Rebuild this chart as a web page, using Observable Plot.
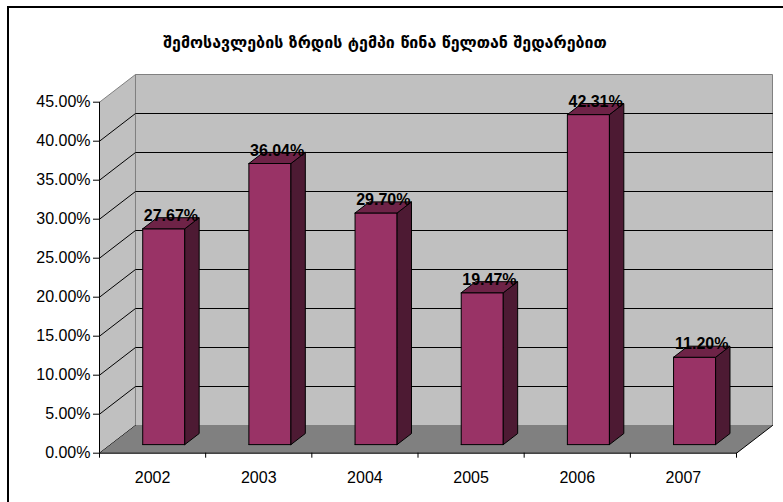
<!DOCTYPE html>
<html>
<head>
<meta charset="utf-8">
<script src="https://cdn.jsdelivr.net/npm/d3@7"></script>
<script src="https://cdn.jsdelivr.net/npm/@observablehq/plot@0.6"></script>
<style>
  html, body { margin: 0; padding: 0; background: #fff; }
  body { width: 783px; height: 502px; position: relative; overflow: hidden; }
  #frame { position: absolute; left: 7px; top: 6px; width: 800px; height: 520px;
           border-left: 2px solid #000; border-top: 2px solid #000; pointer-events: none; }
  #chart { position: absolute; left: 0; top: 0; }
</style>
</head>
<body>
<div id="chart"></div>
<div id="frame"></div>
<script>
// ---- data ----
const title = "შემოსავლების ზრდის ტემპი წინა წელთან შედარებით";
const years = ["2002", "2003", "2004", "2005", "2006", "2007"];
const growth = [27.67, 36.04, 29.70, 19.47, 42.31, 11.20];
const yTicks = [0, 5, 10, 15, 20, 25, 30, 35, 40, 45];

// ---- pseudo-3D projection (depth d in [0,1]) ----
const N = years.length;
const YMAX = 45;
const DX = 0.339;   // depth shift in category units
const DY = 3.55;    // depth shift in percent units
const P = (c, v, d) => ({x: c + d * DX, y: v + d * DY});

const poly = (id, pts) => pts.concat([pts[0]]).map(p => ({...p, id}));

// walls
const leftWall = poly("lw", [P(0,0,0), P(0,YMAX,0), P(0,YMAX,1), P(0,0,1)]);
const backWall = poly("bw", [P(0,0,1), P(0,YMAX,1), P(N,YMAX,1), P(N,0,1)]);
const floor = poly("fl", [P(0,0,0), P(N,0,0), P(N,0,1), P(0,0,1)]);
const floorEdge = [P(0,0,0), P(N,0,0), P(N,0,1)];

// gridlines
const grid = yTicks.filter(v => v > 0 && v < YMAX).flatMap(v =>
  [P(0,v,0), P(0,v,1), P(N,v,1)].map(p => ({...p, id: v})));
const zeroGrid = [P(0,0,0), P(0,0,1)];

// bars
const HW = 0.198, D0 = 0.31, D1 = 0.71;
const fronts = [], sides = [], tops = [];
growth.forEach((v, i) => {
  const c = i + 0.5;
  fronts.push(...poly(i, [P(c-HW,0,D0), P(c+HW,0,D0), P(c+HW,v,D0), P(c-HW,v,D0)]));
  sides.push(...poly(i, [P(c+HW,0,D0), P(c+HW,0,D1), P(c+HW,v,D1), P(c+HW,v,D0)]));
  tops.push(...poly(i, [P(c-HW,v,D0), P(c+HW,v,D0), P(c+HW,v,D1), P(c-HW,v,D1)]));
});
const labels = growth.map((v, i) => ({...P(i + 0.5, v, D1), t: v.toFixed(2) + "%"}))
  .map((p, i) => ({...p, x: i + 0.5 + ((D0 + D1) / 2) * DX}));

const font = "Liberation Sans, Arial, sans-serif";

const chart = Plot.plot({
  width: 783,
  height: 502,
  marginLeft: 99,
  marginRight: 47,
  marginTop: 101.7,
  marginBottom: 49.3,
  style: {fontFamily: font, fontSize: "16px", color: "#000", background: "transparent"},
  x: {domain: [0, N]},
  y: {domain: [0, YMAX]},
  marks: [
    Plot.line(leftWall, {x: "x", y: "y", z: "id", fill: "#c0c0c0", stroke: "#808080", strokeWidth: 1}),
    Plot.line(backWall, {x: "x", y: "y", z: "id", fill: "#c0c0c0", stroke: "#808080", strokeWidth: 1}),
    Plot.line(grid, {x: "x", y: "y", z: "id", stroke: "#000", strokeWidth: 1}),
    Plot.line(zeroGrid, {x: "x", y: "y", stroke: "#000", strokeWidth: 1}),
    Plot.line(floor, {x: "x", y: "y", z: "id", fill: "#808080", stroke: "none"}),
    Plot.line(floorEdge, {x: "x", y: "y", stroke: "#000", strokeWidth: 1}),
    Plot.line(fronts, {x: "x", y: "y", z: "id", fill: "#993366", stroke: "#000", strokeWidth: 1, strokeLinejoin: "miter"}),
    Plot.line(sides, {x: "x", y: "y", z: "id", fill: "#4d1a33", stroke: "#000", strokeWidth: 1, strokeLinejoin: "miter"}),
    Plot.line(tops, {x: "x", y: "y", z: "id", fill: "#6e2347", stroke: "#000", strokeWidth: 1, strokeLinejoin: "miter"}),
    Plot.ruleX([0], {y1: 0, y2: YMAX, stroke: "#000", strokeWidth: 1}),
    Plot.axisY({ticks: yTicks, tickFormat: d => d.toFixed(2) + "%", tickSize: 6, tickPadding: 3,
                fontSize: 16, label: null, stroke: "#000"}),
    Plot.axisX({ticks: d3.range(0, N + 1), tickFormat: () => "", tickSize: 5, label: null, stroke: "#000"}),
    Plot.axisX({ticks: years.map((_, i) => i + 0.5), tickFormat: d => years[Math.floor(d)],
                tickSize: 0, tickPadding: 18, fontSize: 16, label: null}),
    Plot.text(labels, {x: "x", y: "y", text: "t", dy: -2, fontWeight: "bold", fontSize: 16,
                       fill: "#000", textAnchor: "middle", lineAnchor: "middle"}),
    Plot.text([title], {frameAnchor: "top", dx: -33, dy: -59, fontFamily: "DejaVu Sans",
                        fontWeight: "bold", fontSize: 16, fill: "#000", lineAnchor: "middle"})
  ]
});
document.getElementById("chart").appendChild(chart);
</script>
</body>
</html>
